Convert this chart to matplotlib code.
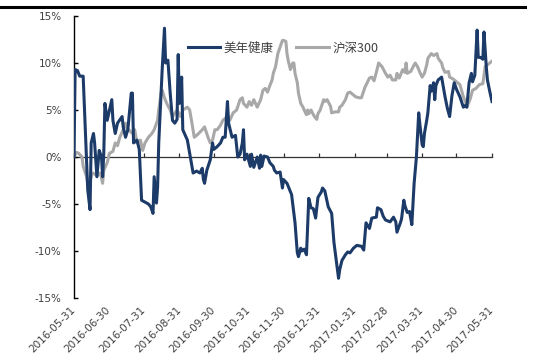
import matplotlib
matplotlib.use("Agg")
import matplotlib.pyplot as plt
from matplotlib.lines import Line2D
from matplotlib.ticker import FuncFormatter
import pandas as pd

plt.rcParams['font.family'] = ['Noto Sans CJK SC', 'DejaVu Sans']

# 美年健康 cumulative return (%)
meinian_dates = [
    "2016-05-31", "2016-06-01", "2016-06-03", "2016-06-05", "2016-06-08", "2016-06-12", "2016-06-14",
    "2016-06-15", "2016-06-17", "2016-06-18", "2016-06-20", "2016-06-22", "2016-06-24", "2016-06-25",
    "2016-06-26", "2016-06-27", "2016-06-29", "2016-07-01", "2016-07-03", "2016-07-04", "2016-07-06",
    "2016-07-08", "2016-07-12", "2016-07-13", "2016-07-15", "2016-07-17", "2016-07-20", "2016-07-21",
    "2016-07-22", "2016-07-25", "2016-07-27", "2016-07-29", "2016-08-01", "2016-08-04", "2016-08-06",
    "2016-08-08", "2016-08-09", "2016-08-11", "2016-08-12", "2016-08-13", "2016-08-16", "2016-08-18",
    "2016-08-19", "2016-08-21", "2016-08-23", "2016-08-25", "2016-08-27", "2016-08-29", "2016-08-30",
    "2016-08-31", "2016-09-01", "2016-09-02", "2016-09-03", "2016-09-07", "2016-09-09", "2016-09-11",
    "2016-09-12", "2016-09-15", "2016-09-18", "2016-09-20", "2016-09-21", "2016-09-22", "2016-09-24",
    "2016-09-27", "2016-09-29", "2016-09-30", "2016-10-03", "2016-10-06", "2016-10-08", "2016-10-10",
    "2016-10-12", "2016-10-13", "2016-10-16", "2016-10-19", "2016-10-20", "2016-10-21", "2016-10-23",
    "2016-10-25", "2016-10-26", "2016-10-27", "2016-10-29", "2016-11-01", "2016-11-02", "2016-11-04",
    "2016-11-07", "2016-11-09", "2016-11-10", "2016-11-11", "2016-11-13", "2016-11-16", "2016-11-18",
    "2016-11-21", "2016-11-22", "2016-11-24", "2016-11-27", "2016-11-29", "2016-11-30", "2016-12-03",
    "2016-12-06", "2016-12-07", "2016-12-10", "2016-12-12", "2016-12-13", "2016-12-15", "2016-12-16",
    "2016-12-18", "2016-12-20", "2016-12-22", "2016-12-24", "2016-12-26", "2016-12-28", "2016-12-30",
    "2017-01-02", "2017-01-03", "2017-01-05", "2017-01-08", "2017-01-11", "2017-01-13", "2017-01-16",
    "2017-01-17", "2017-01-18", "2017-01-20", "2017-01-23", "2017-01-25", "2017-01-27", "2017-01-30",
    "2017-02-02", "2017-02-06", "2017-02-08", "2017-02-10", "2017-02-11", "2017-02-13", "2017-02-15",
    "2017-02-19", "2017-02-20", "2017-02-23", "2017-02-25", "2017-02-27", "2017-03-01", "2017-03-03",
    "2017-03-06", "2017-03-08", "2017-03-09", "2017-03-12", "2017-03-13", "2017-03-15", "2017-03-16",
    "2017-03-18", "2017-03-20", "2017-03-22", "2017-03-24", "2017-03-26", "2017-03-28", "2017-03-29",
    "2017-03-31", "2017-04-01", "2017-04-02", "2017-04-04", "2017-04-05", "2017-04-07", "2017-04-08",
    "2017-04-10", "2017-04-11", "2017-04-12", "2017-04-14", "2017-04-17", "2017-04-20", "2017-04-22",
    "2017-04-24", "2017-04-26", "2017-04-28", "2017-04-30", "2017-05-03", "2017-05-06", "2017-05-08",
    "2017-05-09", "2017-05-11", "2017-05-13", "2017-05-14", "2017-05-16", "2017-05-18", "2017-05-19",
    "2017-05-21", "2017-05-23", "2017-05-24", "2017-05-26", "2017-05-27", "2017-05-29", "2017-05-31",
]
meinian = [
    0.0, 9.3, 9.2, 8.6, 8.6, -3.5, -5.6,
    1.5, 2.5, 1.5, -2.1, 0.7, 0.0, -2.1,
    0.4, 5.7, 3.9, 5.0, 6.1, 3.9, 2.5,
    3.6, 4.3, 3.2, 2.1, 2.9, 6.8, 6.8,
    1.5, 1.8, 0.8, -4.6, -4.8, -5.0, -5.3,
    -6.0, -2.1, -4.9, -3.2, 1.5, 9.3, 13.7,
    10.0, 10.3, 6.8, 3.9, 3.6, 4.0, 10.9,
    5.7, 6.0, 8.5, 2.9, 1.8, 0.4, -1.0,
    -1.7, -1.5, -1.7, -1.2, -2.4, -2.8, -1.4,
    -0.3, 1.5, 0.8, 1.1, 1.5, 2.1, 2.1,
    5.9, 3.6, 2.1, 2.3, 1.1, 0.0, 0.3,
    1.5, 2.9, -0.3, 0.3, -1.0, 0.3, -1.1,
    0.0, -1.2, 0.2, -1.0, 0.1, 0.0, -0.6,
    -1.0, -1.4, -1.7, -1.6, -3.3, -2.4, -2.8,
    -3.7, -4.0, -7.0, -10.2, -10.6, -9.7, -10.0,
    -9.8, -10.4, -4.4, -5.4, -5.5, -6.5, -4.3,
    -3.7, -3.3, -3.6, -5.3, -6.0, -9.1, -12.0,
    -12.9, -12.0, -11.0, -10.4, -10.1, -10.2, -9.7,
    -9.4, -9.5, -9.9, -7.0, -7.2, -7.6, -6.5,
    -6.4, -5.4, -5.6, -6.3, -6.7, -6.8, -6.9,
    -6.4, -6.9, -8.0, -7.0, -6.6, -4.6, -5.2,
    -5.9, -5.8, -7.2, -2.8, 0.0, 4.7, 3.5,
    1.3, 1.1, 2.5, 3.9, 4.7, 7.6, 7.0,
    7.9, 6.1, 7.6, 8.2, 8.5, 6.4, 5.2,
    4.3, 6.5, 7.9, 7.2, 6.4, 5.3, 5.5,
    5.3, 7.9, 8.9, 8.0, 8.7, 13.5, 10.6,
    10.6, 10.4, 13.3, 9.6, 8.2, 7.0, 5.9,
]

# 沪深300 cumulative return (%)
hs300_dates = [
    "2016-05-31", "2016-06-02", "2016-06-04", "2016-06-07", "2016-06-08", "2016-06-11", "2016-06-12",
    "2016-06-13", "2016-06-16", "2016-06-18", "2016-06-20", "2016-06-23", "2016-06-25", "2016-06-26",
    "2016-06-29", "2016-07-01", "2016-07-04", "2016-07-06", "2016-07-08", "2016-07-10", "2016-07-13",
    "2016-07-15", "2016-07-17", "2016-07-21", "2016-07-23", "2016-07-25", "2016-07-28", "2016-07-30",
    "2016-08-01", "2016-08-04", "2016-08-07", "2016-08-09", "2016-08-12", "2016-08-13", "2016-08-15",
    "2016-08-16", "2016-08-18", "2016-08-20", "2016-08-23", "2016-08-25", "2016-08-29", "2016-09-01",
    "2016-09-03", "2016-09-07", "2016-09-09", "2016-09-11", "2016-09-13", "2016-09-16", "2016-09-20",
    "2016-09-22", "2016-09-25", "2016-09-27", "2016-09-29", "2016-10-01", "2016-10-03", "2016-10-06",
    "2016-10-08", "2016-10-12", "2016-10-14", "2016-10-17", "2016-10-20", "2016-10-23", "2016-10-25",
    "2016-10-26", "2016-10-29", "2016-10-31", "2016-11-02", "2016-11-04", "2016-11-07", "2016-11-10",
    "2016-11-12", "2016-11-14", "2016-11-16", "2016-11-18", "2016-11-20", "2016-11-21", "2016-11-23",
    "2016-11-24", "2016-11-25", "2016-11-27", "2016-11-29", "2016-11-30", "2016-12-02", "2016-12-03",
    "2016-12-04", "2016-12-06", "2016-12-08", "2016-12-09", "2016-12-10", "2016-12-12", "2016-12-13",
    "2016-12-15", "2016-12-17", "2016-12-18", "2016-12-20", "2016-12-21", "2016-12-22", "2016-12-24",
    "2016-12-26", "2016-12-27", "2016-12-29", "2016-12-30", "2017-01-01", "2017-01-04", "2017-01-05",
    "2017-01-07", "2017-01-10", "2017-01-11", "2017-01-14", "2017-01-17", "2017-01-18", "2017-01-20",
    "2017-01-23", "2017-01-25", "2017-01-27", "2017-01-30", "2017-02-01", "2017-02-04", "2017-02-06",
    "2017-02-09", "2017-02-11", "2017-02-13", "2017-02-15", "2017-02-17", "2017-02-19", "2017-02-21",
    "2017-02-24", "2017-02-27", "2017-03-01", "2017-03-03", "2017-03-05", "2017-03-08", "2017-03-09",
    "2017-03-11", "2017-03-14", "2017-03-16", "2017-03-17", "2017-03-18", "2017-03-21", "2017-03-24",
    "2017-03-25", "2017-03-27", "2017-03-29", "2017-03-31", "2017-04-02", "2017-04-04", "2017-04-05",
    "2017-04-08", "2017-04-10", "2017-04-13", "2017-04-14", "2017-04-17", "2017-04-18", "2017-04-20",
    "2017-04-23", "2017-04-24", "2017-04-27", "2017-04-30", "2017-05-03", "2017-05-06", "2017-05-08",
    "2017-05-09", "2017-05-12", "2017-05-14", "2017-05-17", "2017-05-20", "2017-05-23", "2017-05-25",
    "2017-05-27", "2017-05-29", "2017-05-31",
]
hs300 = [
    0.0, 0.5, 0.4, 0.0, -1.0, -2.1, -2.8,
    -3.0, -1.7, -1.8, -2.0, -1.7, -2.8, -1.4,
    -0.6, 0.4, 0.6, 1.5, 1.2, 2.1, 2.9,
    3.6, 3.0, 2.5, 2.9, 1.5, 1.8, 0.7,
    1.5, 2.1, 2.5, 2.9, 3.9, 5.0, 6.8,
    7.1, 6.3, 5.7, 5.0, 4.3, 5.0, 4.3,
    5.0, 5.3, 5.0, 3.6, 2.1, 2.4, 2.9,
    3.2, 2.1, 1.5, 1.8, 2.9, 2.9, 3.4,
    3.9, 4.3, 3.9, 4.7, 5.0, 6.1, 6.3,
    5.7, 5.3, 5.9, 5.5, 6.1, 5.3, 6.1,
    7.1, 7.3, 6.9, 7.6, 8.2, 8.9, 9.6,
    10.3, 11.0, 11.7, 12.4, 12.4, 12.3, 11.0,
    10.3, 9.3, 10.0, 10.0, 8.9, 7.9, 6.8,
    5.7, 5.3, 5.0, 4.5, 5.0, 4.6, 5.0,
    4.5, 4.3, 4.0, 4.6, 5.0, 6.1, 5.9,
    6.1, 5.4, 4.7, 4.8, 4.8, 5.3, 5.5,
    6.1, 6.8, 6.9, 6.6, 6.4, 6.3, 6.3,
    7.4, 7.9, 8.4, 8.5, 8.1, 9.0, 10.0,
    9.6, 8.9, 8.5, 8.7, 8.2, 8.2, 8.9,
    8.4, 9.3, 9.0, 10.0, 8.9, 9.1, 9.8,
    10.0, 9.6, 9.0, 8.5, 8.9, 9.8, 10.5,
    11.0, 10.8, 11.0, 10.5, 10.0, 9.5, 9.0,
    9.1, 8.5, 8.3, 8.0, 7.7, 6.4, 5.8,
    5.3, 6.2, 7.1, 7.3, 7.7, 7.8, 9.6,
    9.8, 10.0, 10.2,
]

tick_dates = [
    "2016-05-31", "2016-06-30", "2016-07-31", "2016-08-31", "2016-09-30", "2016-10-31", "2016-11-30",
    "2016-12-31", "2017-01-31", "2017-02-28", "2017-03-31", "2017-04-30", "2017-05-31",
]
y_ticks = [-15, -10, -5, 0, 5, 10, 15]

blue = '#1c3b68'
grey = '#a8a8a8'
text_color = '#404040'

fig = plt.figure(figsize=(5.33, 3.6), dpi=100)
ax = fig.add_axes([74 / 533, 62 / 360, 418 / 533, 282 / 360])

ax.plot(pd.to_datetime(meinian_dates), meinian, color=blue, lw=2.2, label='美年健康', zorder=3)
ax.plot(pd.to_datetime(hs300_dates), hs300, color=grey, lw=2.2, label='沪深300', zorder=2)

ticks = pd.to_datetime(tick_dates)
ax.set_xlim(ticks[0], ticks[-1])
ax.set_ylim(-15, 15)

for s in ['top', 'right']:
    ax.spines[s].set_visible(False)
ax.spines['bottom'].set_position(('data', 0))
ax.spines['bottom'].set_color('#333333')
ax.spines['bottom'].set_linewidth(0.9)
ax.spines['left'].set_linewidth(1.0)
ax.spines['bottom'].set_zorder(1)

ax.set_xticks(ticks)
ax.tick_params(axis='x', direction='in', length=3, width=0.9, color='#333333', labelbottom=False)
ax.set_yticks(y_ticks)
ax.yaxis.set_major_formatter(FuncFormatter(lambda v, p: f'{int(v)}%'))
ax.tick_params(axis='y', direction='in', length=3, width=1.0, labelsize=7.5, labelcolor=text_color, pad=9)
for lab in ax.get_yticklabels():
    lab.set_family('DejaVu Sans')

# month-end labels along the bottom of the plot area
trans = ax.get_xaxis_transform()
for t, lab in zip(ticks, tick_dates):
    ax.text(t, -0.035, lab, transform=trans, rotation=45, rotation_mode='anchor',
            ha='right', va='center', fontsize=7.5, color=text_color, family='DejaVu Sans')

leg = ax.legend(loc='upper center', bbox_to_anchor=(0.5, 0.95), ncol=2, frameon=False,
                fontsize=9, handlelength=2.6, columnspacing=1.8, handletextpad=0.3)
for t in leg.get_texts():
    t.set_color(text_color)

fig.add_artist(Line2D([0, 0.985], [1 - 7 / 360, 1 - 7 / 360], color='black', lw=2.2))

fig.savefig('out.png', dpi=100)
